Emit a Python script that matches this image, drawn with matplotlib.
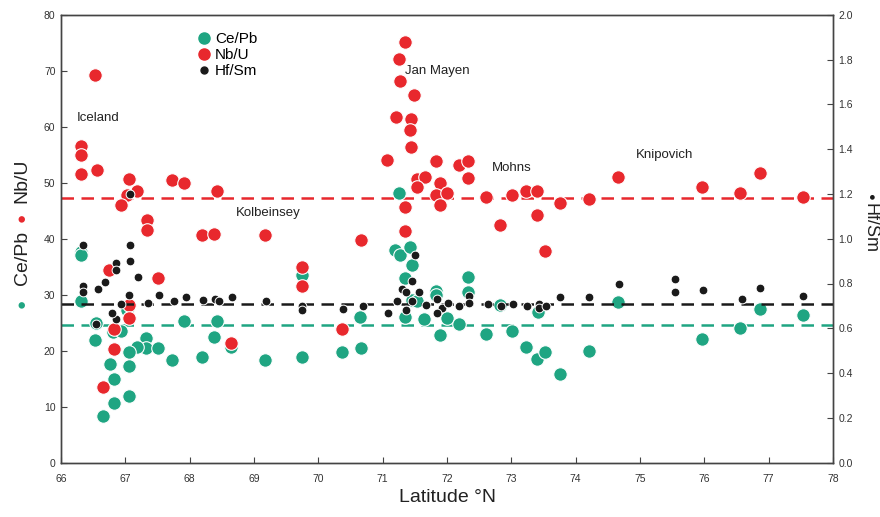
import matplotlib
matplotlib.use("Agg")
import matplotlib.pyplot as plt
from matplotlib.lines import Line2D

plt.rcParams['font.family'] = ['Liberation Sans', 'DejaVu Sans']

TEAL = "#1fa582"
RED = "#e8282d"
BLACK = "#1a1a1a"

# Ce/Pb (left axis)
ce_pb_lat = [66.31, 66.31, 66.31, 66.54, 66.53, 66.81, 66.94, 67.02, 67.32, 67.32,
             67.18, 67.50, 67.05, 67.05, 67.05, 66.76, 66.82, 66.82, 66.66, 67.73,
             67.91, 68.19, 68.38, 68.42, 68.64, 69.17, 69.74, 69.74, 70.37, 70.67,
             71.25, 71.19, 71.27, 71.42, 71.45, 71.34, 70.65, 71.34, 71.65, 71.83,
             71.83, 71.89, 72.00, 72.19, 72.33, 72.33, 71.45, 71.53, 72.61, 72.82,
             73.01, 73.23, 73.40, 73.42, 73.53, 73.75, 74.20, 74.66, 75.96, 76.56,
             76.86, 77.53]
ce_pb = [37.6, 37.0, 28.9, 24.9, 22.0, 23.3, 23.6, 27.2, 22.3, 20.5,
         20.7, 20.5, 19.7, 17.3, 11.9, 17.6, 14.9, 10.6, 8.4, 18.4,
         25.3, 18.9, 22.5, 25.3, 20.6, 18.3, 33.5, 18.8, 19.8, 20.5,
         48.1, 38.0, 37.1, 38.5, 35.3, 32.9, 26.0, 26.0, 25.6, 30.7,
         29.9, 22.8, 25.8, 24.8, 33.2, 30.5, 29.1, 28.9, 23.0, 28.2,
         23.6, 20.7, 18.6, 27.0, 19.8, 15.8, 19.9, 28.7, 22.1, 24.1,
         27.4, 26.3]

# Nb/U (left axis)
nb_u_lat = [66.53, 66.31, 66.31, 66.31, 66.56, 67.06, 67.18, 67.02, 66.93, 67.73,
            67.91, 68.43, 67.33, 67.33, 68.19, 68.38, 69.17, 66.75, 67.50, 67.06,
            67.06, 66.82, 66.82, 66.66, 68.64, 69.74, 69.74, 70.67, 70.37, 71.34,
            71.25, 71.27, 71.49, 71.20, 71.44, 71.42, 71.44, 71.07, 71.83, 72.19,
            72.33, 72.33, 71.54, 71.66, 71.54, 71.89, 71.83, 72.00, 71.89, 71.34,
            71.34, 72.61, 72.82, 73.01, 73.23, 73.40, 73.40, 73.53, 73.75, 74.20,
            74.66, 75.96, 76.56, 76.86, 77.53]
nb_u = [69.2, 56.5, 55.0, 51.5, 52.3, 50.6, 48.5, 47.8, 46.1, 50.5,
        49.9, 48.6, 43.4, 41.6, 40.7, 40.8, 40.7, 34.5, 32.9, 28.1,
        25.9, 23.8, 20.3, 13.6, 21.4, 34.9, 31.6, 39.8, 23.9, 75.2,
        72.0, 68.2, 65.6, 61.7, 61.3, 59.4, 56.3, 54.1, 53.9, 53.2,
        53.9, 50.8, 50.7, 51.0, 49.2, 50.0, 47.8, 48.1, 46.1, 45.7,
        41.4, 47.5, 42.5, 47.8, 48.6, 48.6, 44.2, 37.8, 46.4, 47.0,
        51.0, 49.3, 48.1, 51.8, 47.5]

# Hf/Sm (right axis)
hf_sm_lat = [66.34, 66.34, 66.34, 66.58, 66.68, 66.86, 66.86, 66.86, 67.07, 67.07,
             67.07, 67.20, 67.05, 66.94, 66.79, 66.54, 67.35, 67.52, 67.75, 67.94,
             68.20, 68.40, 68.45, 68.66, 69.19, 69.74, 69.74, 70.39, 70.69, 71.09,
             71.22, 71.30, 71.37, 71.45, 71.51, 71.45, 71.36, 71.56, 71.67, 71.84,
             71.92, 71.84, 72.02, 72.19, 72.34, 72.34, 72.64, 72.84, 73.03, 73.24,
             73.43, 73.43, 73.54, 73.76, 74.21, 74.67, 75.54, 75.54, 75.98, 76.58,
             76.87, 77.54]
hf_sm = [0.97, 0.79, 0.76, 0.775, 0.805, 0.89, 0.86, 0.64, 0.97, 0.90,
         1.20, 0.83, 0.75, 0.71, 0.67, 0.62, 0.715, 0.75, 0.72, 0.74,
         0.725, 0.73, 0.72, 0.74, 0.72, 0.70, 0.68, 0.686, 0.70, 0.67,
         0.72, 0.775, 0.76, 0.81, 0.925, 0.72, 0.68, 0.76, 0.705, 0.73,
         0.69, 0.67, 0.715, 0.70, 0.745, 0.715, 0.71, 0.70, 0.71, 0.70,
         0.71, 0.69, 0.70, 0.74, 0.74, 0.80, 0.82, 0.76, 0.77, 0.73,
         0.78, 0.745]

# Mean values drawn as dashed reference lines
mean_nb_u = 47.3
mean_ce_pb = 24.6
mean_hf_sm = 0.709

# Ridge segment labels
segments = ["Iceland", "Kolbeinsey", "Jan Mayen", "Mohns", "Knipovich"]
segment_lat = [66.25, 68.72, 71.35, 72.70, 74.94]
segment_val = [61.6, 44.5, 70.0, 52.7, 55.0]

fig = plt.figure(figsize=(8.8, 5.17), dpi=100)
ax = fig.add_axes([61 / 880, 1 - 462.7 / 517, 772 / 880, 448 / 517])
ax2 = ax.twinx()

spine_col = "#444444"
for a in (ax, ax2):
    for s in a.spines.values():
        s.set_color(spine_col)
        s.set_linewidth(1.0)
    a.tick_params(direction="in", length=4, width=0.8, colors=spine_col,
                  labelsize=7.5, labelcolor="#333333")

ax.set_xlim(66, 78)
ax.set_ylim(0, 80)
ax2.set_ylim(0, 2.0)
ax.set_xticks(range(66, 79))
ax.set_yticks(range(0, 81, 10))
ax2.set_yticks([i / 10 for i in range(0, 21, 2)])
ax2.set_yticklabels([f"{i / 10:.1f}" for i in range(0, 21, 2)])
ax.tick_params(axis="x", pad=8)
ax.tick_params(axis="y", pad=4)
ax2.tick_params(axis="y", pad=4)

dash = (0, (5, 3))
ax.axhline(mean_nb_u, color=RED, lw=1.8, linestyle=dash, zorder=1)
ax.axhline(mean_ce_pb, color=TEAL, lw=1.8, linestyle=dash, zorder=1)
ax2.axhline(mean_hf_sm, color=BLACK, lw=1.8, linestyle=dash, zorder=1)

ax.scatter(ce_pb_lat, ce_pb, s=95, color=TEAL, edgecolors="white", linewidths=0.8, zorder=3)
ax.scatter(nb_u_lat, nb_u, s=95, color=RED, edgecolors="white", linewidths=0.8, zorder=4)
ax2.scatter(hf_sm_lat, hf_sm, s=40, color=BLACK, edgecolors="white", linewidths=0.7, zorder=5)

for name, x, y in zip(segments, segment_lat, segment_val):
    ax.text(x, y, name, fontsize=9.5, color="#222222", ha="left", va="center")

handles = [
    Line2D([], [], marker="o", linestyle="none", color=TEAL, markersize=8, label="Ce/Pb"),
    Line2D([], [], marker="o", linestyle="none", color=RED, markersize=8, label="Nb/U"),
    Line2D([], [], marker="o", linestyle="none", color=BLACK, markersize=5, label="Hf/Sm"),
]
leg = ax2.legend(handles=handles, loc="upper left", bbox_to_anchor=(0.168, 0.974),
                 frameon=False, fontsize=11, handletextpad=0.2, labelspacing=0.12,
                 borderaxespad=0, handlelength=1.0)

ax.set_xlabel("Latitude \u00b0N", fontsize=14, color="#222222", labelpad=4)

# Left axis title built from coloured markers and text
fig.text(22 / 880, 1 - 303 / 517, "\u25cf", color=TEAL, fontsize=11, rotation=90,
         ha="center", va="center")
fig.text(22 / 880, 1 - 258 / 517, "Ce/Pb", color="#222222", fontsize=14, rotation=90,
         ha="center", va="center")
fig.text(22 / 880, 1 - 217 / 517, "\u25cf", color=RED, fontsize=11, rotation=90,
         ha="center", va="center")
fig.text(22 / 880, 1 - 181 / 517, "Nb/U", color="#222222", fontsize=14, rotation=90,
         ha="center", va="center")

# Right axis title
fig.text(870 / 880, 1 - 196 / 517, "\u25cf", color=BLACK, fontsize=8, rotation=-90,
         ha="center", va="center")
fig.text(870 / 880, 1 - 228 / 517, "Hf/Sm", color="#222222", fontsize=13, rotation=-90,
         ha="center", va="center")

fig.savefig("out.png", dpi=100)
